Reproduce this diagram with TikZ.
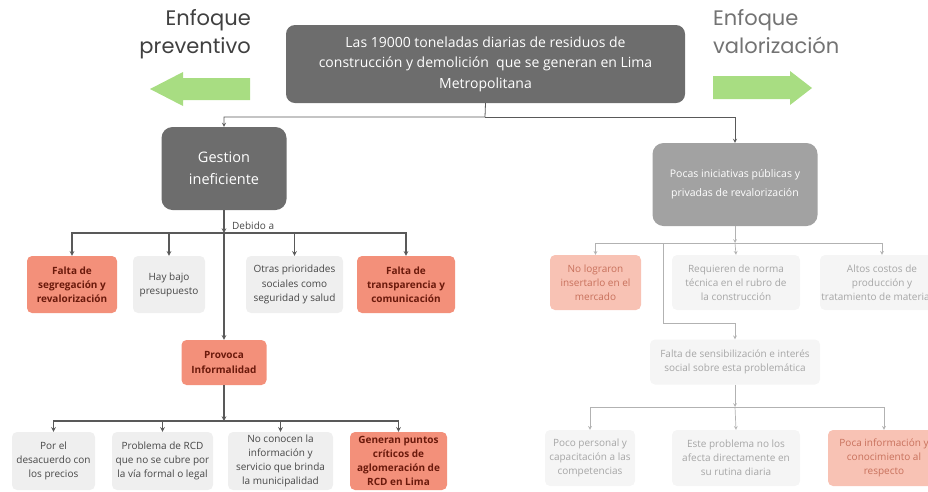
\documentclass[tikz,border=0pt]{standalone}
\usepackage{fontspec}
\setmainfont{Open Sans}
\newfontfamily\headfont{Poppins}
\usetikzlibrary{arrows, calc}
\definecolor{boxdark}{HTML}{6D6D6D}
\definecolor{boxmid}{HTML}{A2A2A2}
\definecolor{salmon}{HTML}{F3907A}
\definecolor{salmontext}{HTML}{6B1A0C}
\definecolor{palesalmon}{HTML}{F8C2B4}
\definecolor{palesalmontext}{HTML}{C8715C}
\definecolor{lightbox}{HTML}{EFEFEF}
\definecolor{palebox}{HTML}{F5F5F5}
\definecolor{arrowgreen}{HTML}{A8DD82}
\tikzstyle{topbox} = [rectangle, rounded corners=9pt, fill=boxdark, text=white, align=center, inner sep=0pt, font=\fontsize{14}{20.5}\selectfont]
\tikzstyle{causebox} = [rectangle, rounded corners=5pt, fill=lightbox, text=black!72, align=center, inner sep=0pt, font=\fontsize{10}{14.2}\selectfont]
\tikzstyle{hotbox} = [causebox, fill=salmon, text=salmontext, font=\fontsize{10}{14.2}\selectfont\bfseries]
\tikzstyle{palecause} = [causebox, fill=palebox, text=black!35]
\tikzstyle{palehot} = [causebox, fill=palesalmon, text=palesalmontext]
\tikzstyle{heading} = [inner sep=0pt, font=\headfont\fontsize{21}{28}\selectfont]
\tikzstyle{wire} = [->, >=stealth, line width=1.1pt, draw=black!65]
\tikzstyle{palewire} = [->, >=stealth, line width=0.7pt, draw=black!30]

\begin{document}
\begin{tikzpicture}[x=1pt, y=-1pt]
    \useasboundingbox (0,0) rectangle (928,491);
    \clip (0,0) rectangle (928,491);

    % headings and arrows
    \node[heading, text=black!75, anchor=north east, align=right] (prevtxt) at (251,9) {Enfoque\\preventivo};
    \node[heading, text=black!55, anchor=north west, align=left] (valtxt) at (713,9) {Enfoque\\valorización};
    \fill[arrowgreen] (250,78) -- (183,78) -- (183,72) -- (150,89) -- (183,106) -- (183,100) -- (250,100) -- cycle;
    \fill[arrowgreen] (713,76) -- (790,76) -- (790,71) -- (812,88) -- (790,105) -- (790,99) -- (713,99) -- cycle;

    % top level
    \node[topbox, minimum width=399pt, minimum height=78pt] (toneladas) at (485.5,64) {Las 19000 toneladas diarias de residuos de\\construcción y demolición\ \ que se generan en Lima\\Metropolitana};
    \node[topbox, rounded corners=11pt, minimum width=125pt, minimum height=83pt, font=\fontsize{14.5}{22}\selectfont] (gestion) at (224,168.5) {Gestion\\ineficiente};
    \node[topbox, fill=boxmid, rounded corners=11pt, minimum width=165pt, minimum height=83pt, font=\fontsize{10.5}{19}\selectfont] (pocas) at (735,184.5) {Pocas iniciativas públicas y\\privadas de revalorización};
    \coordinate (split) at (485,117);
    \draw[wire, line width=0.8pt] (toneladas.south) -- (split) -| (gestion.north);
    \draw[wire, line width=0.8pt] (split) -| (pocas.north);

    % preventivo side
    \node[hotbox, minimum width=90pt, minimum height=57pt] (segregacion) at (72,284.5) {Falta de\\segregación y\\revalorización};
    \node[causebox, minimum width=72pt, minimum height=57pt] (presupuesto) at (169,284.5) {Hay bajo\\presupuesto};
    \node[causebox, minimum width=97pt, minimum height=57pt] (prioridades) at (294.5,284.5) {Otras prioridades\\sociales como\\seguridad y salud};
    \node[hotbox, minimum width=98pt, minimum height=57pt] (transparencia) at (406,284.5) {Falta de\\transparencia y\\comunicación};
    \coordinate (debido) at (224,233);
    \node[font=\fontsize{10}{12}\selectfont, text=black!72, anchor=south west, inner sep=1pt] (debidotxt) at (231,231) {Debido a};
    \draw[wire] (gestion.south) -- (debido);
    \draw[wire] (debido) -| (segregacion.north);
    \draw[wire] (debido) -| (presupuesto.north);
    \draw[wire] (debido) -| (prioridades.north);
    \draw[wire] (debido) -| (transparencia.north);

    \node[hotbox, minimum width=85pt, minimum height=45pt] (informalidad) at (224,362.5) {Provoca\\Informalidad};
    \draw[wire] (debido) -- (informalidad.north);

    \node[causebox, minimum width=83pt, minimum height=58pt] (precios) at (53.5,461) {Por el\\desacuerdo con\\los precios};
    \node[causebox, minimum width=101pt, minimum height=58pt] (legal) at (162.5,461) {Problema de RCD\\que no se cubre por\\la vía formal o legal};
    \node[causebox, minimum width=105pt, minimum height=58pt] (municipalidad) at (280.5,461) {No conocen la\\información y\\servicio que brinda\\la municipalidad};
    \node[hotbox, minimum width=97pt, minimum height=58pt] (puntos) at (398.5,461) {Generan puntos\\críticos de\\aglomeración de\\RCD en Lima};
    \coordinate (provoca) at (224,421);
    \draw[wire] (informalidad.south) -- (provoca);
    \draw[wire] (provoca) -| (precios.north);
    \draw[wire] (provoca) -| (legal.north);
    \draw[wire] (provoca) -| (municipalidad.north);
    \draw[wire] (provoca) -| (puntos.north);

    % valorizacion side
    \node[palehot, minimum width=91pt, minimum height=55pt] (mercado) at (595.5,282.5) {No lograron\\insertarlo en el\\mercado};
    \node[palecause, minimum width=128pt, minimum height=55pt] (norma) at (736,282.5) {Requieren de norma\\técnica en el rubro de\\la construcción};
    \node[palecause, minimum width=124pt, minimum height=55pt] (costos) at (882,282.5) {Altos costos de\\producción y\\tratamiento de materiales};
    \coordinate (rsplit) at (735,243);
    \coordinate (rbranch) at (663,243);
    \coordinate (rbend) at (735,323);
    \draw[palewire] (pocas.south) -- (rsplit);
    \draw[palewire] (rsplit) -| (mercado.north);
    \draw[palewire] (rsplit) -- (norma.north);
    \draw[palewire] (rsplit) -| (costos.north);

    \node[palecause, minimum width=170pt, minimum height=45pt] (sensibilizacion) at (735,362) {Falta de sensibilización e interés\\social sobre esta problemática};
    \draw[palewire] (rbranch) |- (rbend) -- (sensibilizacion.north);

    \node[palecause, minimum width=90pt, minimum height=56pt] (personal) at (590,458) {Poco personal y\\capacitación a las\\competencias};
    \node[palecause, minimum width=128pt, minimum height=56pt] (rutina) at (736,458) {Este problema no los\\afecta directamente en\\su rutina diaria};
    \node[palehot, minimum width=112pt, minimum height=56pt] (conocimiento) at (884,458) {Poca información y\\conocimiento al\\respecto};
    \coordinate (rsplitb) at (735,407);
    \draw[palewire] (sensibilizacion.south) -- (rsplitb);
    \draw[palewire] (rsplitb) -| (personal.north);
    \draw[palewire] (rsplitb) -- (rutina.north);
    \draw[palewire] (rsplitb) -| (conocimiento.north);
\end{tikzpicture}
\end{document}
